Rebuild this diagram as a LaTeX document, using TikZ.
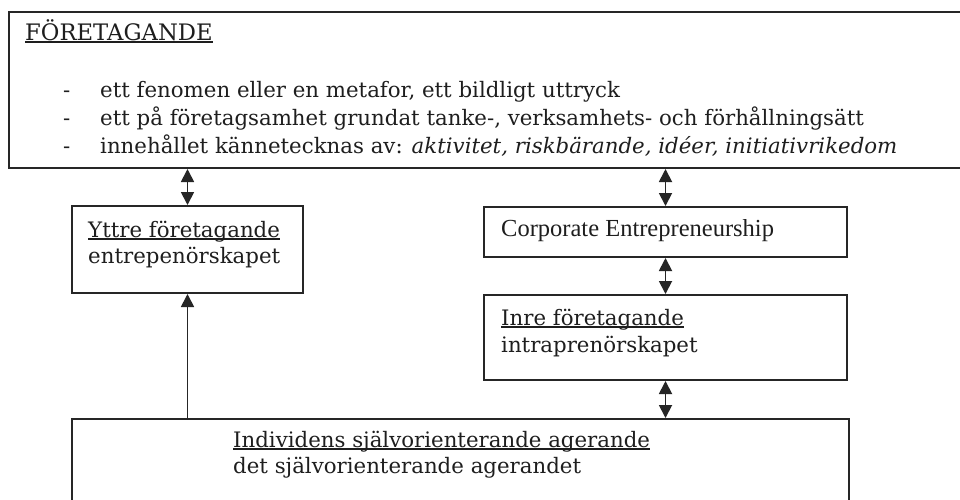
\documentclass[tikz,border=0pt]{standalone}
\usepackage{fontspec}
\setmainfont{DejaVu Serif}
\newfontfamily\timesf{Liberation Serif}
\usetikzlibrary{arrows.meta}
\definecolor{linec}{HTML}{262626}
\definecolor{textc}{HTML}{1E1E1E}
\newcommand\ulbase[1]{\setbox0\hbox{#1}\rlap{\rule[-2.8pt]{\wd0}{1.4pt}}\box0}
\begin{document}
\begin{tikzpicture}[x=1pt,y=-1pt,
  box/.style={draw=linec, line width=2pt, inner sep=0pt, anchor=north west},
  txt/.style={anchor=base west, inner sep=0pt, text=textc, font=\fontsize{21.3}{26}\selectfont},
  dbl/.style={line width=1.8pt, draw=linec, {Triangle[length=13pt,width=13pt]}-{Triangle[length=13pt,width=13pt]}},
  sgl/.style={line width=1.8pt, draw=linec, -{Triangle[length=13pt,width=13pt]}}]
\path[use as bounding box, clip] (0,0) rectangle (960,499);
\fill[white] (0,0) rectangle (960,499);
% boxes
\node[box, minimum width=970pt, minimum height=156pt] (top) at (8,11) {};
\node[box, minimum width=231pt, minimum height=87pt] (yttre) at (71,205) {};
\node[box, minimum width=363pt, minimum height=50pt] (corp) at (483,206) {};
\node[box, minimum width=363pt, minimum height=85pt] (inre) at (483,294) {};
\node[box, minimum width=777pt, minimum height=100pt] (indiv) at (71,418) {};
% texts
\node[txt, font=\fontsize{22.7}{26}\selectfont] (t0) at (25,40) {\ulbase{FÖRETAGANDE}};
\node[txt] (d1) at (63,97) {-};
\node[txt] (d2) at (63,125) {-};
\node[txt] (d3) at (63,153) {-};
\node[txt] (l1) at (100,97) {ett fenomen eller en metafor, ett bildligt uttryck};
\node[txt] (l2) at (100,125) {ett på företagsamhet grundat tanke-, verksamhets- och förhållningsätt};
\node[txt] (l3) at (100,153) {innehållet kännetecknas av: \textit{aktivitet, riskbärande, idéer, initiativrikedom}};
\node[txt] (y1) at (88,237) {\ulbase{Yttre företagande}};
\node[txt] (y2) at (88,263) {entrepenörskapet};
\node[txt, font=\timesf\fontsize{24.5}{26}\selectfont] (c1) at (501,236) {Corporate Entrepreneurship};
\node[txt] (i1) at (501,325) {\ulbase{Inre företagande}};
\node[txt] (i2) at (501,352) {intraprenörskapet};
\node[txt] (b1) at (233,447) {\ulbase{Individens självorienterande agerande}};
\node[txt] (b2) at (233,473) {det självorienterande agerandet};
% connectors
\draw[dbl] (yttre.north |- top.south) -- (yttre.north);
\draw[dbl] (corp.north |- top.south) -- (corp.north);
\draw[dbl] (corp.south) -- (inre.north);
\draw[dbl] (inre.south) -- (inre.south |- indiv.north);
\draw[sgl] (yttre.south |- indiv.north) -- (yttre.south);
\end{tikzpicture}
\end{document}
